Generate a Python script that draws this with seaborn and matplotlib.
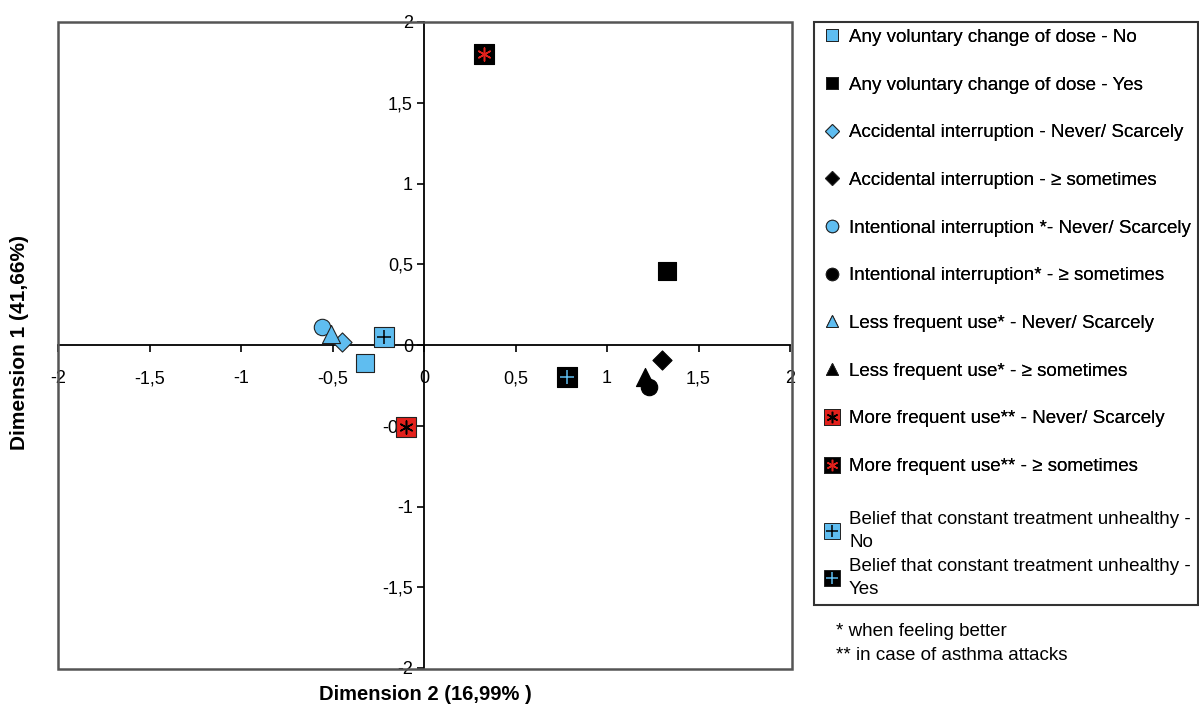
"""
Correspondence analysis map: adherence behaviours
"""
import matplotlib
matplotlib.use('Agg')
import matplotlib.pyplot as plt
from matplotlib.patches import Rectangle
from matplotlib.lines import Line2D
from matplotlib.legend_handler import HandlerTuple
from matplotlib.ticker import FuncFormatter
import seaborn as sns

# ── data ─────────────────────────────────────────────────────────
labels = [
    'Any voluntary change of dose - No',
    'Any voluntary change of dose - Yes',
    'Accidental interruption - Never/ Scarcely',
    'Accidental interruption - \u2265 sometimes',
    'Intentional interruption *- Never/ Scarcely',
    'Intentional interruption* - \u2265 sometimes',
    'Less frequent use* - Never/ Scarcely',
    'Less frequent use* - \u2265 sometimes',
    'More frequent use** - Never/ Scarcely',
    'More frequent use** - \u2265 sometimes',
    'Belief that constant treatment unhealthy -\nNo',
    'Belief that constant treatment unhealthy -\nYes',
]
dim2 = [-0.32, 1.33, -0.45, 1.30, -0.56, 1.23, -0.51, 1.21, -0.10, 0.33, -0.22, 0.78]
dim1 = [-0.11, 0.46, 0.02, -0.09, 0.11, -0.26, 0.07, -0.20, -0.51, 1.80, 0.05, -0.20]
ticks = [-2, -1.5, -1, -0.5, 0, 0.5, 1, 1.5, 2]
notes = ['* when feeling better', '** in case of asthma attacks']

# ── styles ───────────────────────────────────────────────────────
BLUE, BLACK, RED = '#5fbdf0', '#000000', '#e3211c'
# (base marker, face colour, overlay marker, overlay colour, size)
STY = [
    ('s', BLUE, None, None, 150), ('s', BLACK, None, None, 160),
    ('D', BLUE, None, None, 95), ('D', BLACK, None, None, 95),
    ('o', BLUE, None, None, 140), ('o', BLACK, None, None, 140),
    ('^', BLUE, None, None, 170), ('^', BLACK, None, None, 170),
    ('s', RED, (6, 2, 0), BLACK, 220), ('s', BLACK, (6, 2, 0), RED, 220),
    ('s', BLUE, '+', BLACK, 220), ('s', BLACK, '+', BLUE, 220),
]

sns.set_theme(style='white')
plt.rcParams['font.family'] = ['Liberation Sans', 'DejaVu Sans']
plt.rcParams.update({'text.color': 'black', 'xtick.color': 'black',
                     'ytick.color': 'black', 'axes.labelcolor': 'black'})

fig = plt.figure(figsize=(11.99, 7.07), dpi=100)
ax = fig.add_axes([58/1199, 1 - 668/707, 732/1199, 646/707])

for i in range(len(labels)):
    m, fc, om, oc, s = STY[i]
    sns.scatterplot(x=[dim2[i]], y=[dim1[i]], marker=m, color=fc, s=s,
                    edgecolor='#222222' if fc != BLACK else BLACK,
                    linewidth=0.8, ax=ax, zorder=3, legend=False)
    if om is not None:
        sns.scatterplot(x=[dim2[i]], y=[dim1[i]], marker=om, color=oc, s=s * 0.4,
                        linewidth=1.1, ax=ax, zorder=4, legend=False)

ax.set_xlim(-2, 2); ax.set_ylim(-2, 2)
ax.set_xticks(ticks); ax.set_yticks(ticks)
fmt = FuncFormatter(lambda v, p: ('%g' % v).replace('.', ','))
ax.xaxis.set_major_formatter(fmt); ax.yaxis.set_major_formatter(fmt)
for side in ['left', 'bottom']:
    ax.spines[side].set_position('zero')
    ax.spines[side].set_color('black'); ax.spines[side].set_linewidth(1.3)
for side in ['top', 'right']:
    ax.spines[side].set_visible(False)
ax.tick_params(axis='x', direction='out', length=5, width=1.2, pad=13,
               labelsize=13, color='black', bottom=True)
ax.tick_params(axis='y', direction='out', length=5, width=1.2, pad=3,
               labelsize=13, color='black', left=True)
ax.grid(False)
ax.set_xlabel(''); ax.set_ylabel('')

# plot frame
fig.patches.append(Rectangle((58/1199, 1 - 669/707), 734/1199, 647/707,
                             transform=fig.transFigure, fill=False,
                             edgecolor='#555555', lw=1.8, zorder=0))
fig.text(425/1199, 1 - 695/707, 'Dimension 2 (16,99% )', ha='center', va='center',
         fontsize=14.5, weight='bold')
fig.text(20/1199, 1 - 342/707, 'Dimension 1 (41,66%)', ha='center', va='center',
         fontsize=15, weight='bold', rotation=90)

# ── legend ───────────────────────────────────────────────────────
def handle(i):
    m, fc, om, oc, s = STY[i]
    ms = 9 if om is None else 11
    base = Line2D([], [], ls='', marker=m, markersize=ms * (0.8 if m == 'D' else 1),
                  markerfacecolor=fc, markeredgecolor='#222222', markeredgewidth=0.7)
    if om is None:
        return base
    over = Line2D([], [], ls='', marker=om, markersize=ms * 0.75,
                  markeredgecolor=oc, markeredgewidth=1.1)
    return (base, over)

hmap = {tuple: HandlerTuple(ndivide=1)}
leg1 = fig.legend([handle(i) for i in range(10)], labels[:10],
                  loc='upper left', bbox_to_anchor=(820/1199, 1 - 25/707),
                  frameon=False, fontsize=13.5, labelspacing=1.63, handlelength=0.9,
                  handletextpad=0.45, borderaxespad=0, borderpad=0.2, handler_map=hmap)
leg2 = fig.legend([handle(i) for i in (10, 11)], labels[10:],
                  loc='upper left', bbox_to_anchor=(820/1199, 1 - 507/707),
                  frameon=False, fontsize=13.5, labelspacing=0.42, handlelength=0.9,
                  handletextpad=0.45, borderaxespad=0, borderpad=0.2, handler_map=hmap)
for t in leg2.get_texts():
    t.set_linespacing(1.45)
fig.add_artist(leg1)
fig.patches.append(Rectangle((814/1199, 1 - 605/707), 384/1199, 583/707,
                             transform=fig.transFigure, fill=False,
                             edgecolor='#333333', lw=1.5))
for k, t in enumerate(notes):
    fig.text(836/1199, 1 - (631 + 25 * k)/707, t, fontsize=13.5, va='center')

fig.savefig('out.png', dpi=100)
